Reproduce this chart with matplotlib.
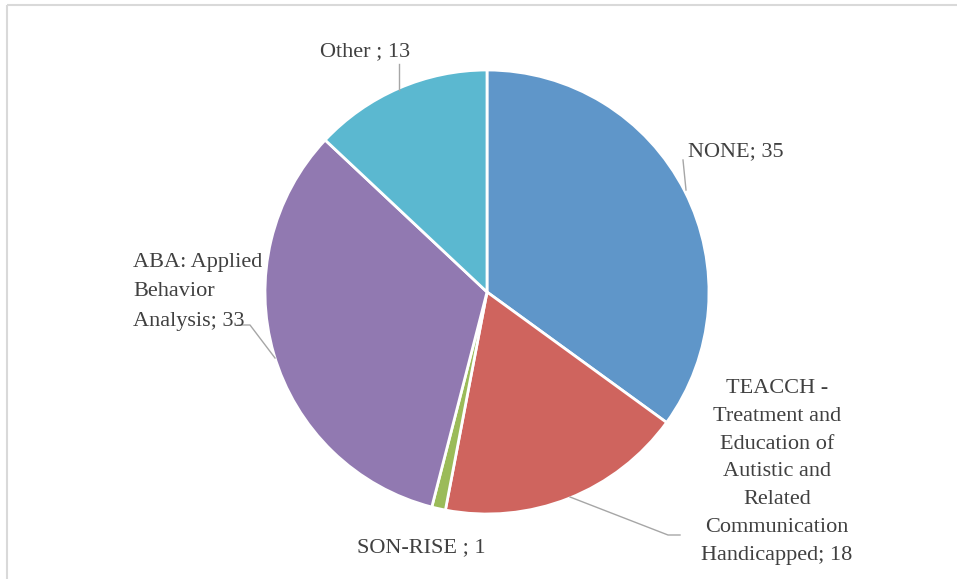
import matplotlib.pyplot as plt
from matplotlib.patches import Rectangle

labels = ["NONE; 35",
          "TEACCH -\nTreatment and\nEducation of\nAutistic and\nRelated\nCommunication\nHandicapped; 18",
          "SON-RISE ; 1",
          "ABA: Applied\nBehavior\nAnalysis; 33",
          "Other ; 13"]
values = [35, 18, 1, 33, 13]
colors = ["#5F96C9", "#CF645E", "#9BBB59", "#9179B1", "#5BB8D0"]

W, H = 957, 579
fig = plt.figure(figsize=(W / 100, H / 100), dpi=100)
ax = fig.add_axes([0, 0, 1, 1])

cx, cy, r = 487, 292, 222
# y axis is inverted, so counterclock=True draws clockwise on screen
wedges, _ = ax.pie(values, colors=colors, startangle=-90, counterclock=True,
                   center=(cx, cy), radius=r, frame=True,
                   wedgeprops=dict(edgecolor="white", linewidth=2))
ax.set_xlim(0, W)
ax.set_ylim(H, 0)
ax.set_aspect("equal")
ax.axis("off")

# chart frame
ax.add_patch(Rectangle((7, 5), 1000, 1000, fill=False, edgecolor="#D9D9D9", linewidth=1.5))

font = dict(family="Liberation Serif", fontsize=16, color="#404040")
lc = "#A6A6A6"

# NONE
ax.text(688, 152, labels[0], ha="left", va="center", **font)
ax.plot([683, 686], [160, 190], color=lc, lw=1)
# TEACCH
ax.text(777, 472, labels[1], ha="center", va="center", linespacing=1.62, **font)
ax.plot([570, 668, 680], [497, 535, 535], color=lc, lw=1)
# SON-RISE
ax.text(421, 548, labels[2], ha="center", va="center", **font)
# ABA
ax.text(133, 292, labels[3], ha="left", va="center", linespacing=1.78, **font)
ax.plot([238, 250, 275], [325, 325, 358], color=lc, lw=1)
# Other
ax.text(365, 52, labels[4], ha="center", va="center", **font)
ax.plot([399, 399], [64, 90], color=lc, lw=1)

fig.savefig("out.png", dpi=100)
